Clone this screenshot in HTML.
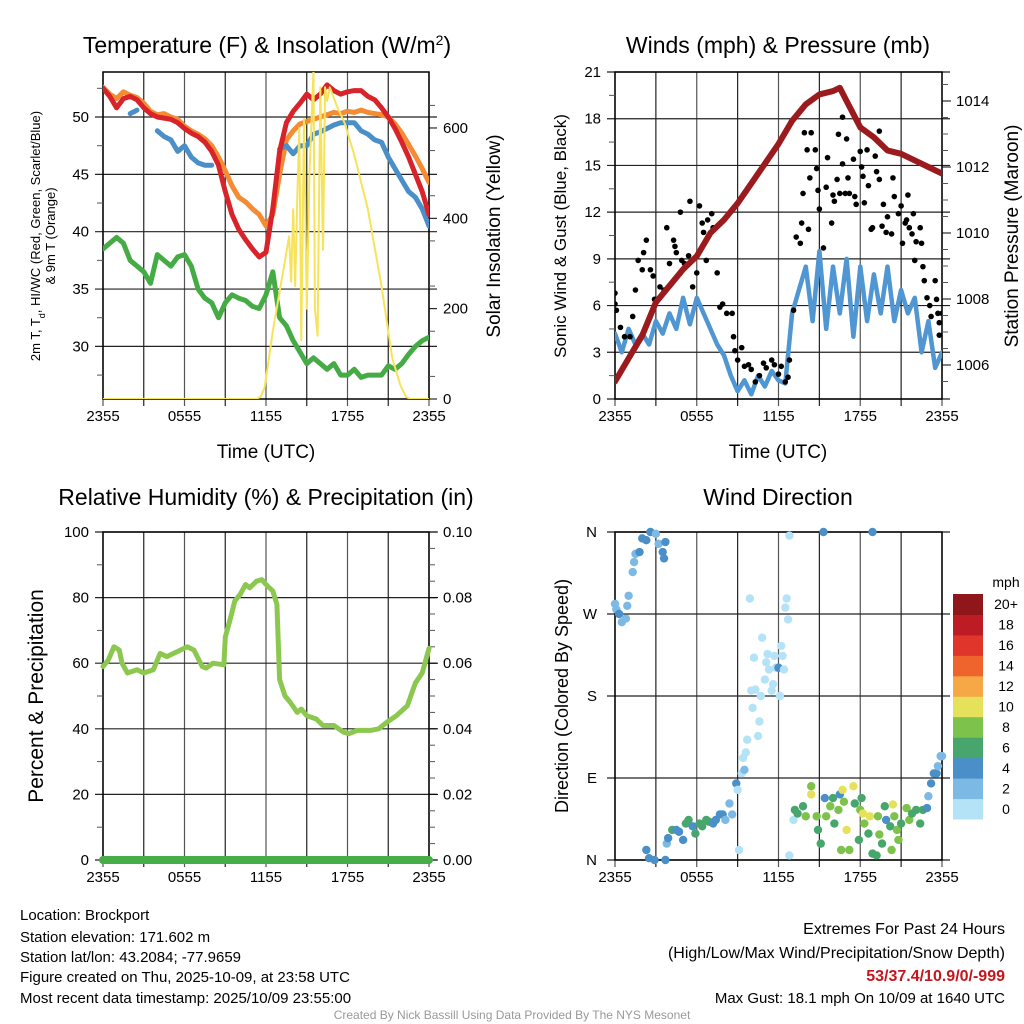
<!DOCTYPE html>
<html><head><meta charset="utf-8">
<style>
html,body{margin:0;padding:0;background:#fff;}
svg{display:block;font-family:"Liberation Sans",Arial,sans-serif;}
</style></head>
<body>
<svg id="chart" width="1024" height="1024" viewBox="0 0 1024 1024" xmlns="http://www.w3.org/2000/svg">
<rect x="0" y="0" width="1024" height="1024" fill="#fff"/>
<defs>
<clipPath id="c1"><rect x="103" y="72" width="326" height="327"/></clipPath>
<clipPath id="c2"><rect x="615" y="72" width="327" height="327"/></clipPath>
<clipPath id="c3"><rect x="95" y="525" width="342" height="345"/></clipPath>
<clipPath id="c4"><rect x="608" y="525" width="342" height="345"/></clipPath>
</defs>
<text x="267" y="53" font-size="23" text-anchor="middle">Temperature (F) &amp; Insolation (W/m<tspan baseline-shift="super" font-size="14">2</tspan>)</text>
<text x="778" y="53" font-size="23" text-anchor="middle">Winds (mph) &amp; Pressure (mb)</text>
<text x="266" y="505" font-size="23" text-anchor="middle">Relative Humidity (%) &amp; Precipitation (in)</text>
<text x="778" y="505" font-size="23" text-anchor="middle">Wind Direction</text>
<text x="266" y="458" font-size="19" text-anchor="middle">Time (UTC)</text>
<text x="778" y="458" font-size="19" text-anchor="middle">Time (UTC)</text>
<text transform="translate(40,236) rotate(-90)" font-size="13" text-anchor="middle">2m T, T<tspan baseline-shift="sub" font-size="9">d</tspan>, HI/WC (Red, Green, Scarlet/Blue)</text>
<text transform="translate(55,236) rotate(-90)" font-size="13" text-anchor="middle">&amp; 9m T (Orange)</text>
<text transform="translate(500,236) rotate(-90)" font-size="19" text-anchor="middle">Solar Insolation (Yellow)</text>
<text transform="translate(566,236) rotate(-90)" font-size="17" text-anchor="middle">Sonic Wind &amp; Gust (Blue, Black)</text>
<text transform="translate(1018,236) rotate(-90)" font-size="19" text-anchor="middle">Station Pressure (Maroon)</text>
<text transform="translate(43,696) rotate(-90)" font-size="21" text-anchor="middle">Percent &amp; Precipitation</text>
<text transform="translate(568,696) rotate(-90)" font-size="18" text-anchor="middle">Direction (Colored By Speed)</text>
<g font-size="15" fill="#000">
<text x="20" y="920">Location: Brockport</text>
<text x="20" y="942">Station elevation: 171.602 m</text>
<text x="20" y="962">Station lat/lon: 43.2084; -77.9659</text>
<text x="20" y="982">Figure created on Thu, 2025-10-09, at 23:58 UTC</text>
<text x="20" y="1003">Most recent data timestamp: 2025/10/09 23:55:00</text>
<text x="1005" y="934" text-anchor="end" font-size="16">Extremes For Past 24 Hours</text>
<text x="1005" y="958" text-anchor="end" font-size="16">(High/Low/Max Wind/Precipitation/Snow Depth)</text>
<text x="1005" y="981" text-anchor="end" font-size="16" font-weight="bold" fill="#c4161c">53/37.4/10.9/0/-999</text>
<text x="1005" y="1003" text-anchor="end" font-size="15">Max Gust: 18.1 mph On 10/09 at 1640 UTC</text>
<text x="512" y="1019" text-anchor="middle" font-size="12" fill="#999">Created By Nick Bassill Using Data Provided By The NYS Mesonet</text>
</g>
</svg>
<script>
const xTickHours = [0, 6, 12, 18, 24];
const xTickLabels = ["2355", "0555", "1155", "1755", "2355"];
const halfHours = [0,0.5,1,1.5,2,2.5,3,3.5,4,4.5,5,5.5,6,6.5,7,7.5,8,8.5,9,9.5,10,10.5,11,11.5,12,12.5,13,13.5,14,14.5,15,15.5,16,16.5,17,17.5,18,18.5,19,19.5,20,20.5,21,21.5,22,22.5,23,23.5,24];
const tempRed = [52.5,51.8,50.8,51.6,51.8,51.5,50.8,50.3,50.0,49.9,49.8,49.5,49.0,48.6,48.3,47.8,47.0,45.8,43.5,41.5,40.2,39.3,38.5,37.8,38.2,42.0,47.0,49.5,50.5,51.2,52.0,51.5,52.0,52.8,52.3,52.0,52.2,52.3,52.3,51.8,51.5,50.8,50.0,49.0,47.8,46.5,45.0,43.5,41.5];
const tempOrange = [52.6,52.0,51.6,52.2,51.9,51.7,51.2,50.5,50.2,50.3,50.0,49.8,49.2,48.8,48.5,48.1,47.5,46.5,45.3,44.0,43.0,42.6,42.0,41.5,40.5,41.5,45.0,48.0,48.8,49.4,49.6,49.8,50.0,50.2,50.4,50.3,50.5,50.4,50.6,50.4,50.3,50.2,50.0,49.4,48.6,47.6,46.6,45.5,44.3];
const tempBlue = [null,null,null,null,50.3,50.6,null,null,48.8,48.3,48.0,47.0,47.5,46.5,46.0,45.8,45.8,null,null,null,null,null,null,null,null,null,47.2,47.5,46.8,47.5,47.5,48.5,48.7,49.0,49.3,49.5,49.5,49.5,48.8,48.5,48.0,47.8,46.5,45.5,44.5,43.5,43.0,42.0,40.5];
const dewGreen = [38.5,39.0,39.5,39.0,37.5,37.0,36.5,35.5,38.0,37.5,37.0,37.8,38.0,37.0,35.0,34.2,33.8,32.5,33.8,34.5,34.2,34.0,33.5,33.3,34.5,36.5,32.5,31.8,30.5,29.5,28.5,29.0,28.5,28.0,28.5,27.5,27.5,28.0,27.3,27.5,27.5,27.5,28.3,28.0,28.5,29.3,30.0,30.5,30.8];
const solarHours = [0,11.3,11.6,11.9,12.5,13.3,13.7,13.85,14.0,14.15,14.3,14.45,14.6,14.8,15.0,15.2,15.5,15.6,15.8,16.0,16.2,16.35,16.5,16.7,17.2,17.8,18.5,19.5,20.5,21.3,21.6,21.9,22.3,22.6,24];
const solarVals = [0,0,5,25,150,290,360,260,420,250,440,600,130,620,200,500,730,200,140,690,330,690,660,690,650,610,540,420,250,90,60,30,5,0,0];
const tempTicks = [30,35,40,45,50];
const solarTicks = [0,200,400,600];

const windSpeed = [4.2,3.0,4.5,3.5,4.2,3.5,5.0,4.2,5.5,4.5,6.5,4.8,6.5,5.5,4.5,3.5,2.8,1.5,0.5,1.2,0.3,1.5,0.8,1.8,1.2,1.0,5.5,7.0,8.5,5.0,9.5,4.5,8.5,5.5,9.0,4.0,8.5,5.0,8.0,5.5,8.5,5.0,7.0,5.5,6.5,3.0,5.0,2.0,3.0];
const gustHours = [0,0,0.1,0.4,0.7,1.1,1.3,1.5,1.7,2,2.1,2.3,2.6,2.8,2.9,3.3,3.6,3.8,4,4.3,4.4,4.5,4.8,4.9,5.1,5.4,5.5,5.7,6,6.2,6.4,6.5,6.7,6.8,7.1,7.2,7.5,7.7,7.9,8.2,8.6,8.7,8.8,9,9.3,9.5,9.8,10,10.3,10.6,10.9,11.1,11.5,11.7,12,12.2,12.5,12.7,12.8,13.1,13.3,13.6,13.7,13.8,13.9,14.1,14.2,14.3,14.4,14.7,14.8,14.9,15,15.3,15.5,15.6,15.9,16,16.1,16.3,16.4,16.5,16.7,16.7,16.9,17,17.1,17.2,17.5,17.6,17.7,18,18.1,18.2,18.3,18.5,18.6,18.8,18.9,19.1,19.2,19.4,19.4,19.6,19.7,19.9,20,20.3,20.4,20.5,20.8,21,21.1,21.3,21.4,21.5,21.6,21.8,21.9,22,22.1,22.4,22.5,22.6,22.7,22.9,23.1,23.2,23.5,23.6,23.7,23.8,23.8,24];
const gustVals = [6.8,6.1,5.7,4.6,4.0,4.0,5.3,7.0,8.9,8.3,9.4,10.2,8.3,7.9,6.4,7.2,7.0,11.0,8.7,10.2,9.8,9.4,12.0,8.9,8.7,9.2,12.7,7.2,8.1,12.4,11.3,10.7,8.9,11.5,11.9,11.0,8.1,5.9,6.1,5.5,5.5,4.0,3.1,2.5,3.3,2.1,2.2,1.9,1.1,1.5,2.3,2.0,2.5,2.2,1.6,2.1,1.1,1.4,2.5,5.7,10.4,10.0,11.3,13.2,17.1,16.0,10.9,14.2,17.1,16.0,14.8,13.4,12.2,9.7,13.6,15.5,11.3,13.1,12.7,14.1,17.0,13.2,18.1,15.1,13.2,16.7,14.2,13.2,15.4,13.0,12.5,15.9,14.9,14.3,12.6,16.0,13.7,10.9,11.0,15.6,14.6,17.2,14.1,11.1,12.5,10.7,11.7,10.6,14.2,13.0,11.9,12.4,10.0,11.3,11.5,13.1,11.0,10.6,11.9,8.9,10.1,11.0,10.0,8.5,7.6,6.5,6.0,5.3,7.6,6.4,5.5,4.1,4.9,5.5];
const pressHours = [0,1,2,3,4,5,6,7,8,9,10,11,12,13,14,15,16,16.5,17,18,19,20,21,22,23,24];
const pressVals = [1005.5,1006.2,1006.9,1007.9,1008.4,1008.9,1009.3,1010.0,1010.4,1010.9,1011.5,1012.1,1012.7,1013.4,1013.9,1014.2,1014.3,1014.4,1014.0,1013.2,1012.9,1012.5,1012.4,1012.2,1012.0,1011.8];
const windTicks = [0,3,6,9,12,15,18,21];
const pressTicks = [1006,1008,1010,1012,1014];

const rhHours = [0,0.4,0.8,1.2,1.4,1.8,2.5,3,3.7,4.2,4.7,5.7,6.2,6.7,7.3,7.6,8.1,8.9,9,9.4,9.7,10.1,10.5,10.8,11.3,11.7,12,12.5,12.8,13,13.4,13.8,14.3,14.6,15,15.7,16.2,17,17.7,18.1,18.7,19.7,20.3,20.9,21.6,22.4,23,23.5,24];
const rhVals = [59,61,65,64,60,57,58,57,58,63,62,64,65,64,59,58.5,60,59.5,68,74,79,81,84,83,85,85.5,84,82,78,55,50,48,45,46,44,43,41,41,39,38.5,39.5,39.5,40,42,44,47,54,57,64.5];
const precipHours = [0,24];
const precipVals = [0,0];
const rhTicks = [0,20,40,60,80,100];
const precipTicks = [0,0.02,0.04,0.06,0.08,0.10];

const dirHours = [0,0.1,0.3,0.5,0.8,0.9,1,1.3,1.4,1.5,1.8,2,2.3,2.6,3,3.2,3.5,3.6,3.7,2.3,2.5,2.9,3.7,3.8,3.9,4.2,4.5,4.7,5,5.2,5.4,5.7,5.9,6.2,6.4,6.7,6.9,7.2,7.4,7.7,7.9,8.1,8.4,8.6,8.9,9,9.1,9.3,9.4,9.5,9.6,9.7,9.9,10,10.1,10.2,10.3,10.5,10.6,10.7,10.8,11,11.1,11.2,11.3,11.5,11.6,11.7,11.8,12,12.1,12.2,12.3,12.4,12.5,12.6,12.7,12.8,12.8,13.1,13.2,13.4,13.8,14,14.4,14.4,14.8,14.9,15.1,15.4,15.5,15.8,16,16.1,16.4,16.5,16.6,16.7,16.8,17,17.2,17.5,17.6,17.9,18,18.1,18.2,18.3,18.6,18.7,18.9,19.2,19.3,19.4,19.6,19.8,19.9,20.2,20.3,20.4,20.5,20.7,20.8,21,21.4,21.6,21.8,22.1,22.4,22.6,22.9,23,23.2,23.4,23.6,23.7,23.9,24,15.3,18.9];
const dirDegs = [281,275,270,261,265,279,290,316,327,336,338,353,351,360,358,347,338,331,349,11,2,0,0,18,24,33,33,31,22,40,44,37,29,40,37,44,42,40,44,50,50,44,62,50,84,77,11,95,112,99,118,132,287,186,167,222,187,136,152,180,244,198,217,226,209,186,193,224,211,211,180,235,224,209,277,287,264,356,5,44,55,51,59,48,81,72,48,33,18,68,48,59,68,40,55,72,11,77,64,33,11,81,62,22,55,68,51,40,29,48,7,5,48,28,18,59,44,37,11,61,48,33,22,40,57,44,51,55,40,55,57,70,84,95,95,103,114,114,360,360];
const dirSpeeds = [3,3,4,3,3,2,2,2,2,3,4,4,4,4,3,3,4,4,4,4,4,4,4,2,4,6,4,5,4,6,6,4,6,6,7,6,7,4,4,4,4,2,2,3,4,1,1,1,1,3,1,1,1,1,1,1,1,1,1,1,1,1,1,1,1,1,1,1,1,4,1,1,1,1,1,1,1,1,1,1,6,7,7,8,8,10,8,6,6,4,8,8,6,6,8,4,8,10,8,10,8,10,6,6,8,6,10,8,6,10,6,6,8,8,6,6,4,6,8,10,8,8,8,6,8,8,6,6,6,6,4,3,4,4,4,3,3,3,4,4];
const dirTickDegs = [0,90,180,270,360];
const dirTickLabels = ["N","E","S","W","N"];
const speedBins = ["0","2","4","6","8","10","12","14","16","18","20+"];
const speedColors = ["#b4e2f7","#7cb9e5","#4a8fc7","#48a66c","#7dc24b","#e6e15b","#f5a845","#ef632d","#df352a","#bd1c24","#8f161a"];

const NS = "http://www.w3.org/2000/svg";
const svg = document.getElementById('chart');
function mk(tag, attrs, parent){
  const e = document.createElementNS(NS, tag);
  for (const k in attrs) e.setAttribute(k, attrs[k]);
  (parent || svg).appendChild(e);
  return e;
}
const P1 = {L:103,R:429,T:72,B:399};
const P2 = {L:615,R:942,T:72,B:399};
const P3 = {L:103,R:429,T:532,B:860};
const P4 = {L:615,R:942,T:532,B:860};
const xOf = (P,h) => P.L + h/24*(P.R-P.L);
const yT = v => 117 + (50 - v)*11.47;
const yS = v => 399 - v*0.4517;
const yW = v => 399 - v*(327/21);
const yP = p => 365 - (p - 1006)*33;
const yRH = v => 860 - v*3.28;
const yPr = v => 860 - v*3280;
const yD = d => 860 - d*328/360;

function frame(P, name, hGridVals, yf){
  const g = mk('g', {});
  
  
  for (let h = 0; h <= 24; h += 3){
    const x = xOf(P,h);
    const ln = mk('line', {x1:x, x2:x, y1:P.T, y2:P.B+7, stroke: (h%6===0)?'#555':'#222', 'stroke-width':1.2}, g);
    
    
  }
  hGridVals.forEach(v => {
    const y = yf(v);
    const ln = mk('line', {x1:P.L-8, x2:P.R+8, y1:y, y2:y, stroke:'#222', 'stroke-width':1.2}, g);
    
    
  });
  const fr = mk('rect', {x:P.L, y:P.T, width:P.R-P.L, height:P.B-P.T, fill:'none', stroke:'#000', 'stroke-width':1.5}, g);
  
  
  xTickHours.forEach((h,i) => {
    const t = mk('text', {x:xOf(P,h), y:P.B+22, 'font-size':15, 'text-anchor':'middle'});
    t.textContent = xTickLabels[i];
    
    
  });
}
function yLabels(P, vals, yf, side, fmt, name){
  vals.forEach(v => {
    const t = mk('text', {x: side==='L' ? P.L-14 : P.R+14, y: yf(v)+5, 'font-size':15, 'text-anchor': side==='L'?'end':'start'});
    t.textContent = fmt(v);
    
    
  });
}
function minorTicks(P, from, to, step, yf, side, name){
  for (let v = from; v <= to + 1e-9; v += step){
    const y = yf(v);
    const x = side==='L' ? P.L : P.R;
    const d = side==='L' ? -6 : 6;
    const ln = mk('line', {x1:x, x2:x+d, y1:y, y2:y, stroke:'#555', 'stroke-width':1});
    
    
  }
}
function linePath(P, hs, vs, yf){
  let d = '', pen = false;
  for (let i = 0; i < hs.length; i++){
    if (vs[i] === null){ pen = false; continue; }
    d += (pen ? 'L' : 'M') + xOf(P,hs[i]).toFixed(1) + ',' + yf(vs[i]).toFixed(1);
    pen = true;
  }
  return d;
}

frame(P1, 'temp', tempTicks, yT);
minorTicks(P1, 27.5, 52.5, 5, yT, 'L', 'temp');
minorTicks(P1, 50, 700, 100, yS, 'R', 'solar');
solarTicks.forEach(v => { const ln = mk('line',{x1:P1.R,x2:P1.R+8,y1:yS(v),y2:yS(v),stroke:'#000'});   });
yLabels(P1, tempTicks, yT, 'L', v=>String(v), 'temp-y');
yLabels(P1, solarTicks, yS, 'R', v=>String(v), 'solar-y');
const g1 = mk('g', {'clip-path':'url(#c1)', fill:'none', 'stroke-linejoin':'round', 'stroke-linecap':'round'});


let s;
s = mk('path', {d: linePath(P1, halfHours, dewGreen, yT), stroke:'#45ac45', 'stroke-width':5}, g1);


s = mk('path', {d: linePath(P1, halfHours, tempOrange, yT), stroke:'#f58b33', 'stroke-width':5}, g1);


s = mk('path', {d: linePath(P1, halfHours, tempBlue, yT), stroke:'#4a8fc8', 'stroke-width':5}, g1);


s = mk('path', {d: linePath(P1, halfHours, tempRed, yT), stroke:'#d8232a', 'stroke-width':5}, g1);


s = mk('path', {d: linePath(P1, solarHours, solarVals, yS), stroke:'#f7e35a', 'stroke-width':2}, g1);



frame(P2, 'wind', windTicks, yW);
minorTicks(P2, 1.5, 19.5, 3, yW, 'L', 'wind');
minorTicks(P2, 1005.5, 1014.5, 0.5, yP, 'R', 'pressure');
pressTicks.forEach(v => { const ln = mk('line',{x1:P2.R,x2:P2.R+9,y1:yP(v),y2:yP(v),stroke:'#000'});   });
yLabels(P2, windTicks, yW, 'L', v=>String(v), 'wind-y');
yLabels(P2, pressTicks, yP, 'R', v=>String(v), 'pressure-y');
const g2 = mk('g', {'clip-path':'url(#c2)', fill:'none', 'stroke-linejoin':'round', 'stroke-linecap':'round'});


s = mk('path', {d: linePath(P2, halfHours, windSpeed, yW), stroke:'#4f96d2', 'stroke-width':4.5}, g2);


gustHours.forEach((h,i) => {
  const c = mk('circle', {cx:xOf(P2,h), cy:yW(gustVals[i]), r:2.8, fill:'#000'}, g2);
  
  
});
s = mk('path', {d: linePath(P2, pressHours, pressVals, yP), stroke:'#9b1a1e', 'stroke-width':6}, g2);



frame(P3, 'rh', rhTicks, yRH);
minorTicks(P3, 10, 90, 20, yRH, 'L', 'rh');
minorTicks(P3, 0.005, 0.095, 0.005, yPr, 'R', 'precip');
precipTicks.forEach(v => { const ln = mk('line',{x1:P3.R,x2:P3.R+9,y1:yPr(v),y2:yPr(v),stroke:'#000'});   });
yLabels(P3, rhTicks, yRH, 'L', v=>String(v), 'rh-y');
yLabels(P3, precipTicks, yPr, 'R', v=>v.toFixed(2), 'precip-y');
const g3 = mk('g', {'clip-path':'url(#c3)', fill:'none', 'stroke-linejoin':'round', 'stroke-linecap':'round'});


s = mk('path', {d: linePath(P3, rhHours, rhVals, yRH), stroke:'#8cc850', 'stroke-width':5}, g3);


s = mk('path', {d: linePath(P3, precipHours, precipVals, yPr), stroke:'#46ad48', 'stroke-width':8}, g3);



frame(P4, 'direction', [0,90,180,270,360], yD);
dirTickDegs.forEach((d,i) => {
  const t = mk('text', {x:P4.L-18, y:yD(d)+5, 'font-size':15, 'text-anchor':'end'});
  t.textContent = dirTickLabels[i];
  
  
});
const g4 = mk('g', {'clip-path':'url(#c4)'});


dirHours.forEach((h,i) => {
  const bin = Math.min(10, Math.floor(dirSpeeds[i]/2));
  const c = mk('circle', {cx:xOf(P4,h), cy:yD(dirDegs[i]), r:4.2, fill:speedColors[bin]}, g4);
  
  
});
const cbT = 594, cbB = 819, cbL = 953, cbW = 30;
const cbH = (cbB - cbT) / speedBins.length;
const mph = mk('text', {x:1006, y:587, 'font-size':14, 'text-anchor':'middle'});
mph.textContent = 'mph';


speedBins.forEach((lab,i) => {
  const y = cbB - (i+1)*cbH;
  const r = mk('rect', {x:cbL, y:y, width:cbW, height:cbH+0.5, fill:speedColors[i]});
  
  
  const t = mk('text', {x:1006, y:y+cbH/2+5, 'font-size':14, 'text-anchor':'middle'});
  t.textContent = lab;
  
  
});
</script>
</body></html>
